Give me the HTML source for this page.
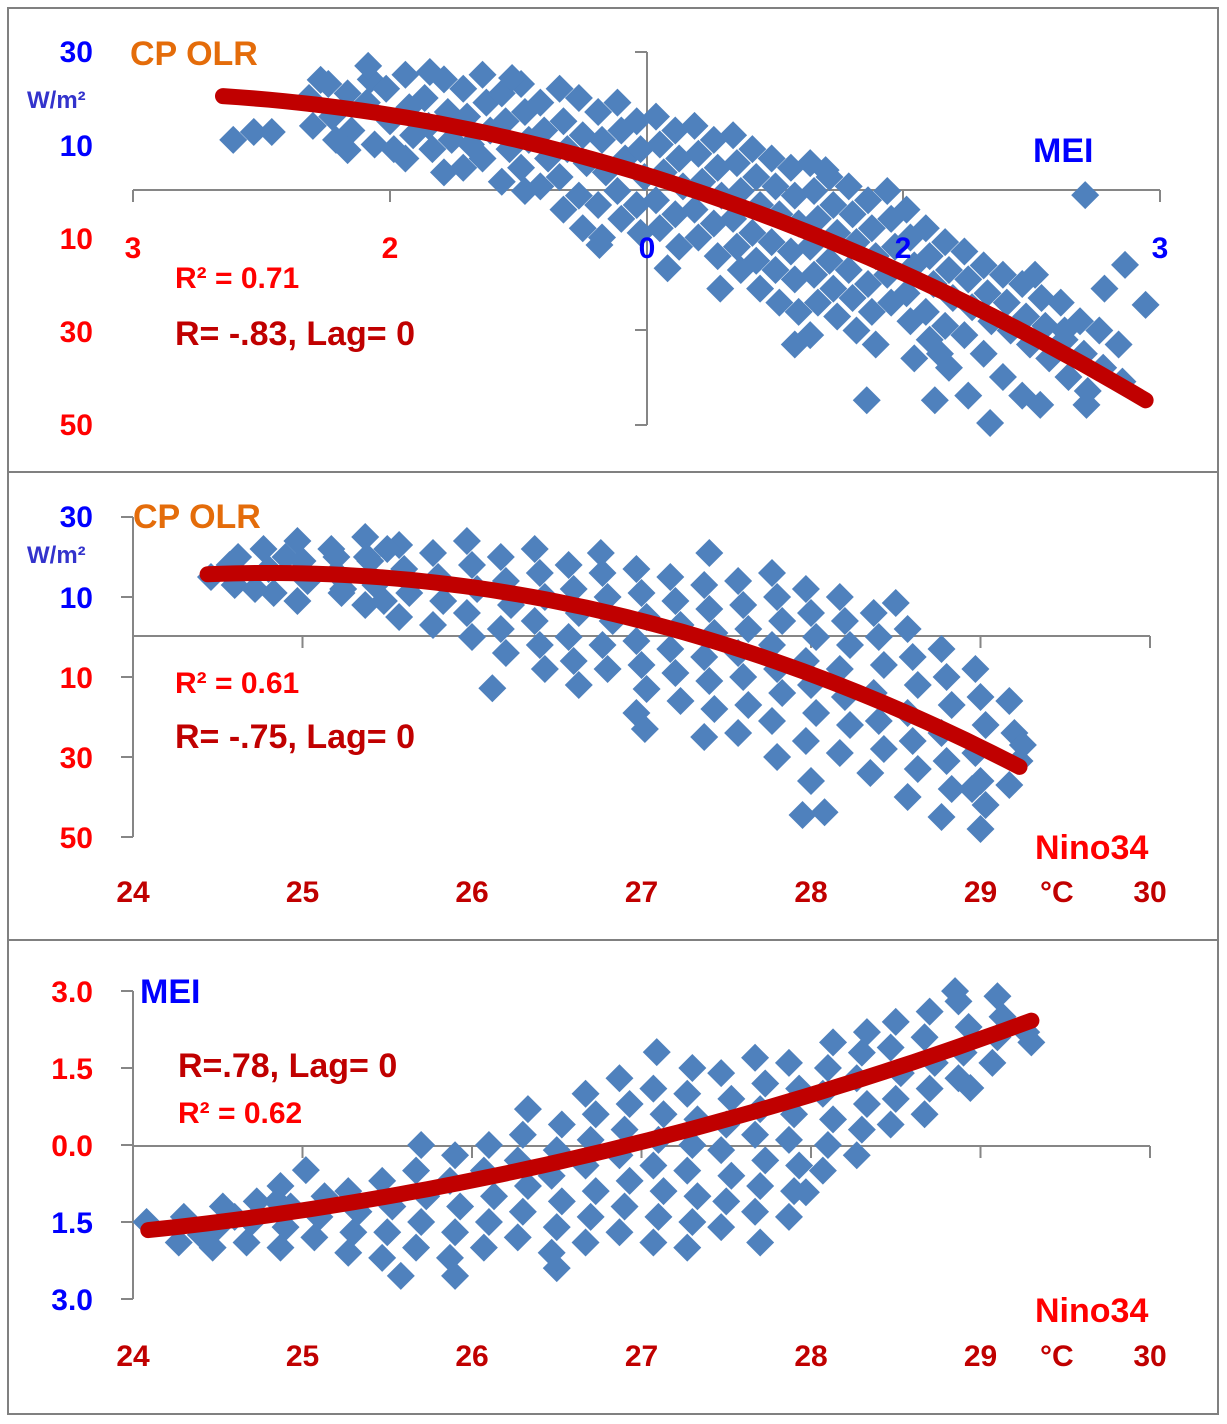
<!DOCTYPE html>
<html><head><meta charset="utf-8"><style>
body{margin:0;background:#fff;}
svg{display:block;font-family:"Liberation Sans",sans-serif;font-weight:bold;}
</style></head><body>
<svg id="chart" width="1227" height="1424" viewBox="0 0 1227 1424">
<rect x="8" y="8" width="1210" height="1406" fill="#fff" stroke="#808080" stroke-width="2"/>
<line x1="8" y1="472" x2="1218" y2="472" stroke="#808080" stroke-width="2"/>
<line x1="8" y1="940" x2="1218" y2="940" stroke="#808080" stroke-width="2"/>
<g id="g1"></g>
<g id="g2"></g>
<g id="g3"></g>
</svg>
<script>
// Panel 1: MEI vs CP OLR
const p1cols=[-2.6,-2.45,-2.3,-2.15,-2.0,-1.85,-1.7,-1.55,-1.4,-1.25,-1.1,-0.95,-0.8,-0.65,-0.5,-0.35,-0.2,-0.05,0.1,0.25,0.4,0.55,0.7,0.85,1.0,1.15,1.3,1.45,1.6,1.75,1.9,2.05,2.2,2.35,2.5,2.65,2.8,2.95,3.1,3.25,3.4,3.55,3.7];
const p1vals=[[-20,-14],[-23,-16,-11],[-21,-13],[-19,-24,-10],[-22,-15,-9],[-25,-18,-12,-7],[-20,-14,-9],[-24,-17,-11,-4],[-22,-16,-10,-5],[-25,-19,-13,-7],[-21,-15,-9,-2],[-23,-17,-11,-5,0],[-19,-13,-7,-1],[-22,-15,-9,-3,4],[-20,-12,-6,1,8],[-17,-11,-4,3,10],[-19,-13,-7,0,6],[-15,-9,-3,3,9],[-16,-10,-4,2,8],[-13,-7,-1,5,12],[-14,-8,-2,4,10],[-11,-5,1,7,14],[-12,-6,0,6,12,17],[-9,-3,3,9,15,21],[-7,-1,5,11,17,24],[-5,1,7,13,19,26],[-6,0,6,12,18,24,31],[-3,3,9,15,21,27],[-1,5,11,17,23,30],[2,8,14,20,26,33],[0,6,12,18,24],[4,10,16,22,28,36],[8,14,20,26,32],[11,17,23,29,38],[13,19,25,31,44],[16,22,28,35],[18,24,30,40],[20,27,33,44],[23,29,36],[24,32,40],[28,35,43],[30,38],[33,41]];
const p1ox=[-3.22,-3.06,-2.92,-2.54,-2.17,-2.33,-1.69,-1.05,3.41,3.72,3.88,3.56,2.67,1.71,2.24,3.06,3.42,1.39,0.57,0.16,-0.37,1.15,2.28,3.02,3.25];
const p1oy=[-11,-12.7,-12.7,-23.9,-26.9,-8.8,-25.6,-24.3,0.9,15.9,24.5,21,49.9,45,45,46,46,-4.5,21,16.6,11.6,33,35,18,30];
const p1fit=[1.02,8.52,-3.4]; const p1range=[-3.3,3.88];
// Panel 2: Nino34 vs CP OLR
const p2cols=[24.6,24.8,25.0,25.2,25.4,25.6,25.8,26.0,26.2,26.4,26.6,26.8,27.0,27.2,27.4,27.6,27.8,28.0,28.2,28.4,28.6,28.8,29.0,29.2];
const p2vals=[[-18,-13],[-22,-17,-11],[-24,-19,-14,-9],[-22,-16,-11],[-25,-19,-13,-8],[-23,-17,-11,-5],[-21,-15,-9,-3],[-24,-18,-12,-6,0],[-20,-14,-8,-2,4],[-22,-16,-10,-4,2,8],[-18,-12,-6,0,6,12],[-16,-10,-4,2,8],[-17,-11,-5,1,7,13,19],[-15,-9,-3,3,9,16],[-13,-7,-1,5,11,18,25],[-14,-8,-2,4,10,17,24],[-16,-10,-4,2,8,14,21,30],[-12,-6,0,6,12,19,26,36],[-10,-4,2,8,15,22,29],[-6,0,7,14,21,28],[-2,5,12,19,26,33,40],[3,10,17,24,31,38,45],[8,15,22,29,36,42],[16,24,31,37]];
const p2ox=[24.46,24.62,24.72,24.9,25.2,25.24,25.38,25.5,25.48,26.12,27.02,28.08,27.95,28.35,28.5,29.0,28.95,29.25,27.4,26.76];
const p2oy=[-15,-20,-12,-20,-20,-12,-20,-22,-9,12.8,23,43.8,44.5,34,-8.5,48,38,27,-21,-21];
const p2fit=[24.8,2.47,-16]; const p2range=[24.44,29.23];
// Panel 3: Nino34 vs MEI
const p3cols=[24.3,24.5,24.7,24.9,25.1,25.3,25.5,25.7,25.9,26.1,26.3,26.5,26.7,26.9,27.1,27.3,27.5,27.7,27.9,28.1,28.3,28.5,28.7,28.9,29.1,29.3];
const p3vals=[[-1.9,-1.4],[-2.0,-1.6,-1.2],[-1.9,-1.5,-1.1],[-2.0,-1.6,-1.2,-0.8],[-1.8,-1.4,-1.0],[-2.1,-1.7,-1.3,-0.9],[-2.2,-1.7,-1.2,-0.7],[-2.0,-1.5,-1.0,-0.5,0],[-2.2,-1.7,-1.2,-0.7,-0.2],[-2.0,-1.5,-1.0,-0.5,0.0],[-1.8,-1.3,-0.8,-0.3,0.2,0.7],[-2.1,-1.6,-1.1,-0.6,-0.1,0.4],[-1.9,-1.4,-0.9,-0.4,0.1,0.6,1.0],[-1.7,-1.2,-0.7,-0.2,0.3,0.8,1.3],[-1.9,-1.4,-0.9,-0.4,0.1,0.6,1.1],[-2.0,-1.5,-1.0,-0.5,0,0.5,1.0,1.5],[-1.6,-1.1,-0.6,-0.1,0.4,0.9,1.4],[-1.3,-0.8,-0.3,0.2,0.7,1.2,1.7],[-1.4,-0.9,-0.4,0.1,0.6,1.1,1.6],[-0.5,0,0.5,1.0,1.5,2.0],[-0.2,0.3,0.8,1.3,1.8,2.2],[0.4,0.9,1.4,1.9,2.4],[0.6,1.1,1.6,2.1,2.6],[1.3,1.8,2.3,2.8],[1.6,2.1,2.5],[2.2,2.0]];
const p3ox=[24.08,24.4,24.6,24.85,25.02,25.58,25.9,26.5,27.09,28.85,29.1,28.94,27.97,27.7];
const p3oy=[-1.5,-1.75,-1.4,-1.1,-0.49,-2.55,-2.55,-2.4,1.81,3.0,2.9,1.11,-0.92,-1.9];
const p3fit=[27,0.084,0.835,0.06]; const p3range=[24.09,29.3];

const NS="http://www.w3.org/2000/svg";
function mk(g,tag,attrs){const e=document.createElementNS(NS,tag);for(const k in attrs)e.setAttribute(k,attrs[k]);g.appendChild(e);return e;}
function txt(g,x,y,s,size,fill,anchor,name){const t=mk(g,'text',{x:x,y:y,'font-size':size,fill:fill,'text-anchor':anchor||'start'});t.textContent=s;


return t;}
function diamond(g,px,py){const r=14;const p=mk(g,'polygon',{points:`${px},${py-r} ${px+r},${py} ${px},${py+r} ${px-r},${py}`,fill:'#4f81bd'});

}
function drawPts(g,cols,vals,ox,oy,sx,sy){
  const pts=mk(g,'g',{});
  
  
  cols.forEach((c,i)=>vals[i].forEach((v,j)=>diamond(pts,sx(c+((j%3)-1)*0.03),sy(v))));
  ox.forEach((x,i)=>diamond(pts,sx(x),sy(oy[i])));
}
function drawCurve(g,f,r,sx,sy){let d='';for(let k=0;k<=60;k++){const x=r[0]+(r[1]-r[0])*k/60;d+=(k?'L':'M')+sx(x).toFixed(1)+','+sy(f(x)).toFixed(1);}
const p=mk(g,'path',{d:d,fill:'none',stroke:'#c00000','stroke-width':16,'stroke-linecap':'round'});

}
function line(g,x1,y1,x2,y2,name){const l=mk(g,'line',{x1:x1,y1:y1,x2:x2,y2:y2,stroke:'#868686','stroke-width':2});

}

// ---- Panel 1
{const g=document.getElementById('g1');
const sx=x=>647+x*128.5, sy=y=>191+y*4.65;
line(g,133,190,1160,190,'x-axis');line(g,647,52,647,425,'y-axis');
[52,145,238,330,425].forEach(y=>line(g,635,y,647,y,'y-tick'));
[133,390,647,903,1160].forEach(x=>line(g,x,190,x,202,'x-tick'));
drawPts(g,p1cols,p1vals,p1ox,p1oy,sx,sy);
drawCurve(g,x=>p1fit[0]*x*x+p1fit[1]*x+p1fit[2],p1range,sx,sy);
const yl=[['30','#0000ff',62],['10','#0000ff',156],['10','#ff0000',249],['30','#ff0000',342],['50','#ff0000',435]];
yl.forEach(a=>txt(g,93,a[2],a[0],30,a[1],'end','y-tick-label'));
txt(g,27,108,'W/m²',24,'#3333cc','start','y-unit-label');
txt(g,130,65,'CP OLR',34,'#e46c0a','start','y-axis-title');
txt(g,1033,162,'MEI',34,'#0000ff','start','x-axis-title');
[['3',133,'#ff0000'],['2',390,'#ff0000'],['0',647,'#0000ff'],['2',903,'#0000ff'],['3',1160,'#0000ff']].forEach(a=>txt(g,a[1],258,a[0],30,a[2],'middle','x-tick-label'));
txt(g,175,288,'R² = 0.71',30,'#ff0000','start','r-squared-label');
txt(g,175,345,'R= -.83, Lag= 0',34,'#c00000','start','correlation-label');}

// ---- Panel 2
{const g=document.getElementById('g2');
const sx=x=>133+(x-24)*169.5, sy=y=>637+y*4;
line(g,133,636,1150,636,'x-axis');line(g,133,517,133,837,'y-axis');
[517,597,677,757,837].forEach(y=>line(g,121,y,133,y,'y-tick'));
[24,25,26,27,28,29,30].forEach(v=>line(g,sx(v),636,sx(v),648,'x-tick'));
drawPts(g,p2cols,p2vals,p2ox,p2oy,sx,sy);
drawCurve(g,x=>p2fit[2]+p2fit[1]*(x-p2fit[0])*(x-p2fit[0]),p2range,sx,sy);
const yl=[['30','#0000ff',527],['10','#0000ff',608],['10','#ff0000',688],['30','#ff0000',768],['50','#ff0000',848]];
yl.forEach(a=>txt(g,93,a[2],a[0],30,a[1],'end','y-tick-label'));
txt(g,27,563,'W/m²',24,'#3333cc','start','y-unit-label');
txt(g,133,528,'CP OLR',34,'#e46c0a','start','y-axis-title');
[24,25,26,27,28,29,30].forEach(v=>txt(g,sx(v),902,String(v),30,'#c00000','middle','x-tick-label'));
txt(g,1035,859,'Nino34',34,'#ff0000','start','x-axis-title');
txt(g,1040,902,'°C',30,'#c00000','start','x-unit-label');
txt(g,175,693,'R² = 0.61',30,'#ff0000','start','r-squared-label');
txt(g,175,748,'R= -.75, Lag= 0',34,'#c00000','start','correlation-label');}

// ---- Panel 3
{const g=document.getElementById('g3');
const sx=x=>133+(x-24)*169.5, sy=y=>1145-y*51.3;
line(g,133,1146,1150,1146,'x-axis');line(g,133,991,133,1299,'y-axis');
[991,1068,1145,1222,1299].forEach(y=>line(g,121,y,133,y,'y-tick'));
[24,25,26,27,28,29,30].forEach(v=>line(g,sx(v),1146,sx(v),1158,'x-tick'));
drawPts(g,p3cols,p3vals,p3ox,p3oy,sx,sy);
drawCurve(g,x=>{const d=x-p3fit[0];return p3fit[1]*d*d+p3fit[2]*d+p3fit[3];},p3range,sx,sy);
const yl=[['3.0','#ff0000',1002],['1.5','#ff0000',1079],['0.0','#ff0000',1156],['1.5','#0000ff',1233],['3.0','#0000ff',1310]];
yl.forEach(a=>txt(g,93,a[2],a[0],30,a[1],'end','y-tick-label'));
txt(g,140,1003,'MEI',34,'#0000ff','start','y-axis-title');
[24,25,26,27,28,29,30].forEach(v=>txt(g,sx(v),1366,String(v),30,'#c00000','middle','x-tick-label'));
txt(g,1035,1322,'Nino34',34,'#ff0000','start','x-axis-title');
txt(g,1040,1366,'°C',30,'#c00000','start','x-unit-label');
txt(g,178,1077,'R=.78, Lag= 0',34,'#c00000','start','correlation-label');
txt(g,178,1123,'R² = 0.62',30,'#ff0000','start','r-squared-label');}
</script>
</body></html>
